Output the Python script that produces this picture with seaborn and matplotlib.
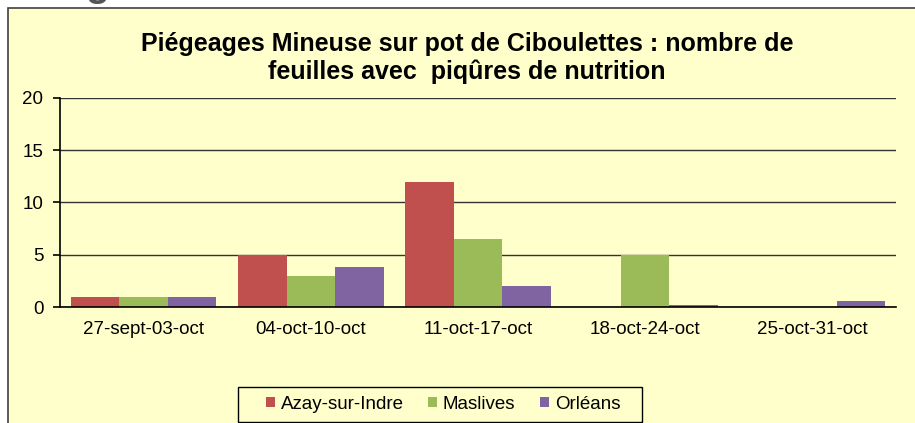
import pandas as pd
import matplotlib.pyplot as plt
import seaborn as sns
from matplotlib.patches import Rectangle

semaines = ['27-sept-03-oct', '04-oct-10-oct', '11-oct-17-oct', '18-oct-24-oct', '25-oct-31-oct']
sites = ['Azay-sur-Indre', 'Maslives', 'Orléans']
azay = [1, 5, 12, 0, 0]
maslives = [1, 3, 6.5, 5, 0]
orleans = [1, 3.8, 2, 0.15, 0.6]
couleurs = ['#C0504D', '#9BBB59', '#8064A2']

fond = '#FFFFCC'

# long format for seaborn
df = pd.DataFrame({
    'Semaine': semaines * 3,
    'Site': [s for s in sites for _ in semaines],
    'Feuilles': azay + maslives + orleans,
})

sns.set_theme(style='white')
plt.rcParams['font.family'] = ['Liberation Sans', 'DejaVu Sans']

W, H = 915, 423
fig = plt.figure(figsize=(W / 100, H / 100), dpi=100)
fig.patch.set_facecolor('white')

# chart area (yellow, border only on top/left, rest is cropped)
fig.patches.append(Rectangle((8 / W, -0.1), 1.2, 1 - 8 / H + 0.1, transform=fig.transFigure,
                             facecolor=fond, edgecolor='#404040', linewidth=1.2, zorder=-10))
# cropped heading from the page above
fig.text(85 / W, 1 + 4 / H, 'g', fontsize=28, fontweight='bold', color='#555555', va='baseline')

ax = fig.add_axes([60 / W, 116 / H, (896 - 60) / W, (325 - 116) / H])
ax.set_facecolor(fond)

sns.barplot(data=df, x='Semaine', y='Feuilles', hue='Site', palette=couleurs,
            width=0.87, saturation=1, linewidth=0, ax=ax)

ax.set_ylim(0, 20)
ax.set_xlim(-0.5, 4.5)
ax.set_yticks([0, 5, 10, 15, 20])
ax.set_xlabel('')
ax.set_ylabel('')
ax.set_axisbelow(True)
ax.yaxis.grid(True, color='#333333', linewidth=1)

for s in ['top', 'right']:
    ax.spines[s].set_visible(False)
for s in ['left', 'bottom']:
    ax.spines[s].set_color('black')
    ax.spines[s].set_linewidth(1.2)

ax.set_xticks([i - 0.5 for i in range(6)], minor=True)
ax.tick_params(axis='x', which='major', length=0, pad=10, labelsize=13.5, labelcolor='black')
ax.tick_params(axis='x', which='minor', length=5, width=1.2, color='black', direction='out')
ax.tick_params(axis='y', length=5, width=1.2, color='black', direction='out', pad=7,
               labelsize=13.5, labelcolor='black', left=True)

# title centred on the chart area, not on the axes
fig.text(467 / W, 1 - 58 / H,
         'Piégeages Mineuse sur pot de Ciboulettes : nombre de\nfeuilles avec  piqûres de nutrition',
         fontsize=18, fontweight='bold', color='black', linespacing=1.15, ha='center', va='center',
         multialignment='center')

# legend with its own box, as in the original chart
handles, labels = ax.get_legend_handles_labels()
ax.legend_.remove()
fig.patches.append(Rectangle((238 / W, 1 - 422 / H), (642 - 238) / W, 35 / H, transform=fig.transFigure,
                             facecolor=fond, edgecolor='black', linewidth=1, zorder=1))
leg = fig.legend(handles, labels, loc='center', bbox_to_anchor=(443 / W, (H - 404) / H), ncol=3,
                 fontsize=13.5, frameon=False, handlelength=0.5, handleheight=0.5, handletextpad=0.3,
                 columnspacing=1.3, labelcolor='black')
leg.set_zorder(2)

fig.savefig('out.png', dpi=100, facecolor=fig.get_facecolor())
